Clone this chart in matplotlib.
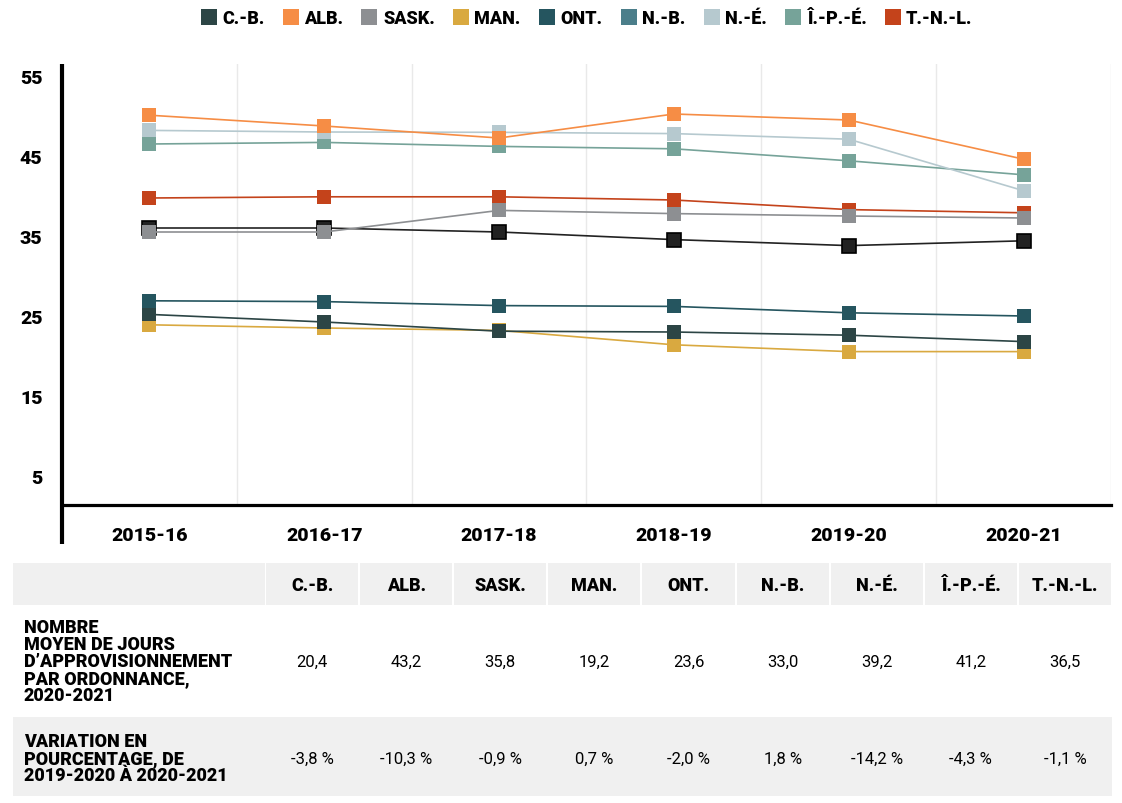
import numpy as np
import matplotlib
matplotlib.use("Agg")
import matplotlib.pyplot as plt
from matplotlib import font_manager
from matplotlib.lines import Line2D
from matplotlib.patches import Rectangle

names = {f.name for f in font_manager.fontManager.ttflist}
fam = next((n for n in ['Roboto', 'Open Sans', 'DejaVu Sans'] if n in names))
plt.rcParams['font.family'] = [fam, 'DejaVu Sans']
heavy = 'black'

years = ['2015-16', '2016-17', '2017-18', '2018-19', '2019-20', '2020-21']
provinces = ['C.-B.', 'ALB.', 'SASK.', 'MAN.', 'ONT.', 'N.-B.', 'N.-É.', 'Î.-P.-É.', 'T.-N.-L.']

# values
cb = [25.2, 24.25, 23.1, 23.0, 22.6, 21.8]
alb = [50.1, 48.75, 47.25, 50.25, 49.5, 44.6]
sask = [35.5, 35.5, 38.2, 37.8, 37.5, 37.25]
man = [23.9, 23.5, 23.2, 21.4, 20.55, 20.55]
ont = [26.9, 26.8, 26.3, 26.2, 25.4, 25.0]
nb = [36.0, 36.0, 35.5, 34.55, 33.8, 34.4]
ne = [48.2, 48.0, 47.96, 47.8, 47.1, 40.66]
ipe = [46.5, 46.7, 46.2, 45.9, 44.4, 42.65]
tnl = [39.75, 39.9, 39.9, 39.5, 38.3, 37.9]

# table rows
row_labels = ['NOMBRE\nMOYEN DE JOURS\nD\u2019APPROVISIONNEMENT\nPAR ORDONNANCE,\n2020-2021',
              'VARIATION EN\nPOURCENTAGE, DE\n2019-2020 À 2020-2021']
days_2021 = ['20,4', '43,2', '35,8', '19,2', '23,6', '33,0', '39,2', '41,2', '36,5']
pct_change = ['-3,8 %', '-10,3 %', '-0,9 %', '0,7 %', '-2,0 %', '1,8 %', '-14,2 %', '-4,3 %', '-1,1 %']

series = dict(zip(provinces, [cb, alb, sask, man, ont, nb, ne, ipe, tnl]))
legend_colors = ['#2c4545', '#f68d45', '#8d8f92', '#d9a940', '#25555f',
                 '#4b7e8a', '#b6c9cf', '#76a399', '#c4431b']
line_colors = dict(zip(provinces, legend_colors))
line_colors['N.-B.'] = '#222222'
draw_order = ['N.-B.', 'T.-N.-L.', 'SASK.', 'Î.-P.-É.', 'N.-É.', 'ALB.', 'MAN.', 'C.-B.', 'ONT.']

W, H = 1122, 804
fig = plt.figure(figsize=(W / 100, H / 100), dpi=100)

ax = fig.add_axes([62 / W, 1 - 506 / H, (1111 - 62) / W, (506 - 65) / H])
x = np.arange(len(years))
for i, p in enumerate(draw_order):
    c = line_colors[p]
    ec = '#000000' if p == 'N.-B.' else c
    ax.plot(x, series[p], color=c, lw=1.2, marker='s', markersize=10,
            markerfacecolor=c, markeredgecolor=ec, markeredgewidth=1.2 if p == 'N.-B.' else 0,
            zorder=3 + i)

ax.set_xlim(-0.5, 5.5)
ax.set_ylim(55 - (506 - 77) / 8, 55 + 12 / 8)
ax.set_yticks([55, 45, 35, 25, 15, 5])
ax.set_xticks(x, years)
ax.set_xticks(np.arange(-0.5, 6), minor=True)
ax.grid(which='minor', axis='x', color='#e9e9e9', lw=1)
ax.tick_params(axis='both', which='both', length=0)
ax.tick_params(axis='x', pad=15, labelsize=14)
ax.tick_params(axis='y', pad=14, labelsize=14)
for lab in ax.get_xticklabels() + ax.get_yticklabels():
    lab.set_fontweight(heavy)
for s in ['top', 'right', 'left']:
    ax.spines[s].set_visible(False)
ax.spines['bottom'].set_linewidth(2.3)
ax.plot([0, 0], [1, -39 / 441], transform=ax.transAxes, color='black', lw=3,
        clip_on=False, solid_capstyle='butt', zorder=10)

handles = [Line2D([], [], ls='none', marker='s', markersize=11, markerfacecolor=c,
                  markeredgewidth=0) for c in legend_colors]
fig.legend(handles, provinces, loc='center', bbox_to_anchor=(587 / W, 1 - 19 / H), ncol=9,
           frameon=False, handlelength=0.8, handletextpad=0.35, columnspacing=1.05,
           prop={'weight': heavy, 'size': 13})

# table underneath, drawn in pixel coordinates
tab = fig.add_axes([0, 0, 1, 1], zorder=-1)
tab.set_xlim(0, W)
tab.set_ylim(H, 0)
tab.axis('off')
bg = '#f0f0f0'
edges = np.linspace(265, 1112, len(provinces) + 1)
tab.add_patch(Rectangle((13, 564), 265 - 13, 42, color=bg, lw=0))
for i, p in enumerate(provinces):
    tab.add_patch(Rectangle((edges[i] + 1, 564), edges[i + 1] - edges[i] - 2, 42, color=bg, lw=0))
    cx = (edges[i] + edges[i + 1]) / 2
    tab.text(cx, 586, p, ha='center', va='center', fontsize=13, fontweight=heavy)
    tab.text(cx, 662, days_2021[i], ha='center', va='center', fontsize=12)
    tab.text(cx, 759, pct_change[i], ha='center', va='center', fontsize=12)
tab.add_patch(Rectangle((13, 718), 1112 - 13, 79, color=bg, lw=0))
tab.text(24, 662, row_labels[0], ha='left', va='center', fontsize=13, fontweight=heavy,
         linespacing=0.92)
tab.text(24, 759, row_labels[1], ha='left', va='center', fontsize=13, fontweight=heavy,
         linespacing=0.92)

fig.savefig('out.png', dpi=100)
